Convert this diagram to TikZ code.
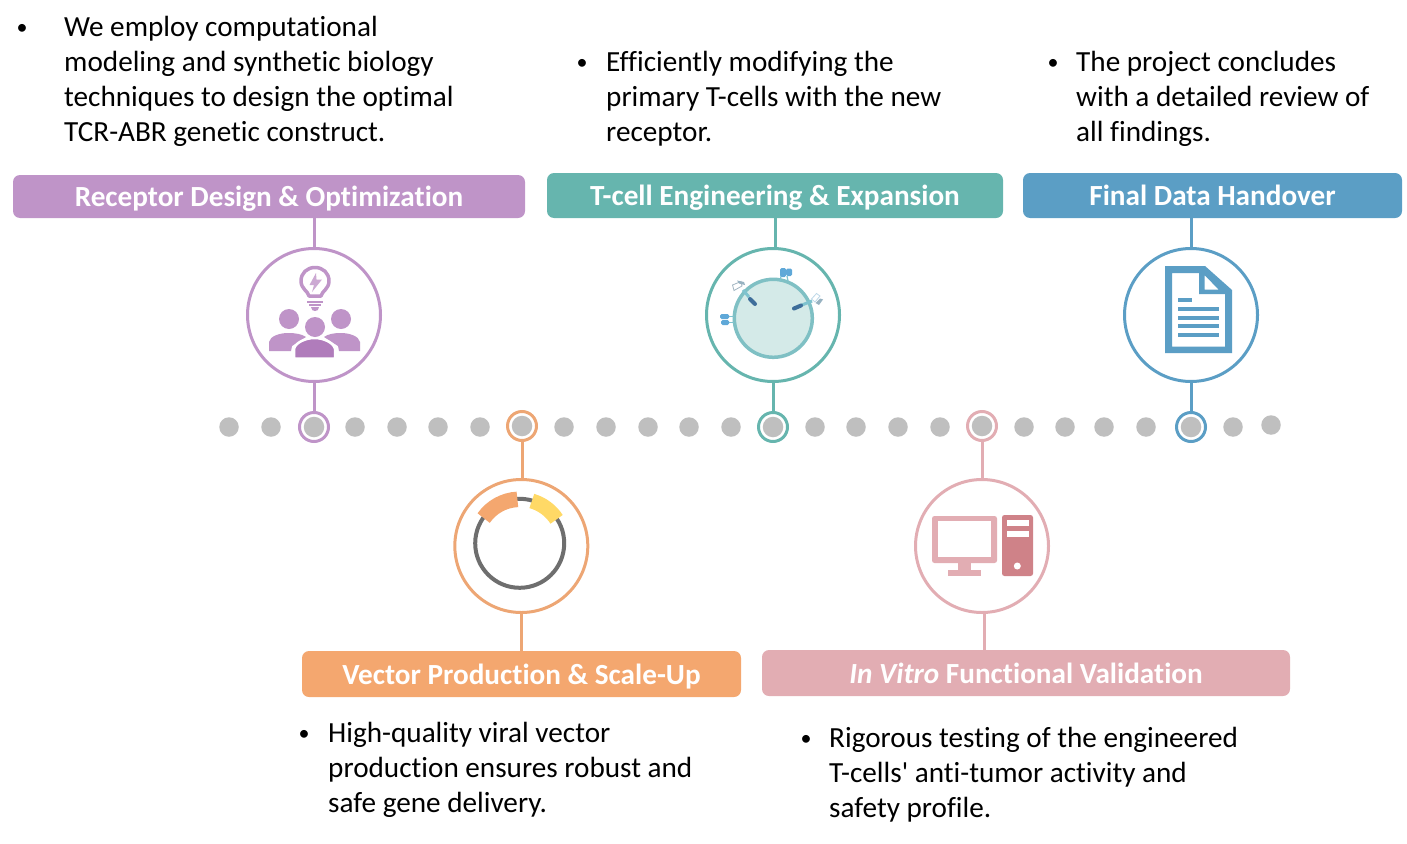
\documentclass[tikz,border=0pt]{standalone}
\usepackage{fontspec}
\setmainfont{Carlito}[Ligatures={NoCommon,TeX}]
\definecolor{cpur}{HTML}{BF94C8}
\definecolor{cpurd}{HTML}{B07CBB}
\definecolor{cteal}{HTML}{66B5AE}
\definecolor{cblue}{HTML}{5B9EC5}
\definecolor{corg}{HTML}{F4A76F}
\definecolor{corgl}{HTML}{EDA674}
\definecolor{cpink}{HTML}{E2ADB3}
\definecolor{cpinkd}{HTML}{CF8288}
\definecolor{cgrey}{HTML}{BFBFBF}
\definecolor{cyel}{HTML}{FFD966}
\definecolor{cplas}{HTML}{6E6E6E}
\definecolor{crec}{HTML}{5FA8D8}
\definecolor{cstem}{HTML}{7FC3CF}
\definecolor{cstub}{HTML}{3E6E9A}
\definecolor{ccell}{HTML}{7FC0C4}
\tikzset{
  bar/.style={draw=none,fill=#1,rounded corners=7pt,text=white,font=\fontsize{29.2}{32}\selectfont\bfseries,inner sep=0pt,align=center,text height=22pt,text depth=3pt},
  hub/.style={circle,draw=#1,fill=white,line width=3pt,minimum size=133pt,inner sep=0pt},
  ring/.style={circle,draw=#1,fill=white,line width=3pt,minimum size=29pt,inner sep=0pt},
  dotg/.style={circle,fill=cgrey,draw=none,minimum size=19.5pt,inner sep=0pt},
  link/.style={draw=#1,line width=3pt},
  body/.style={anchor=north west,inner sep=0pt,align=left,font=\fontsize{29.2}{35}\selectfont,text=black},
  bull/.style={anchor=base,inner sep=0pt,font=\fontsize{22}{24}\selectfont,text=black},
}
\begin{document}
\begin{tikzpicture}[x=1pt,y=-1pt]
\useasboundingbox (0,0) rectangle (1407,843);
% header bars
\node[bar=cpur,minimum width=512pt,minimum height=43pt] (b1) at (269,196.5) {Receptor Design \& Optimization};
\node[bar=cteal,minimum width=456pt,minimum height=45pt] (b2) at (775,195.5) {T-cell Engineering \& Expansion};
\node[bar=cblue,minimum width=379pt,minimum height=45pt] (b3) at (1212.5,195.5) {Final Data Handover};
\node[bar=corg,minimum width=439pt,minimum height=46pt,text height=24pt] (b4) at (521.5,674) {Vector Production \& Scale-Up};
\node[bar=cpink,minimum width=528pt,minimum height=46pt,text height=24pt] (b5) at (1026,673) {\textit{In Vitro} Functional Validation};
% timeline dots
\foreach \n/\x/\y in {1/229/427,2/271/427,3/355/427,4/397/427,5/438/427,6/480/427,7/564/427,8/606/427,9/648/427,10/689/427,11/731/427,12/815/427,13/856/427,14/898/427,15/940/427,16/1024/427,17/1065/427,18/1104/427,19/1146/427,20/1233/427,21/1271/425}
  \node[dotg] (d\n) at (\x,\y) {};
% hubs and rings
\node[hub=cpur] (h1) at (314,315) {};
\node[hub=cteal] (h2) at (773,315) {};
\node[hub=cblue] (h3) at (1191,315) {};
\node[hub=corgl] (h4) at (521.3,546) {};
\node[hub=cpink] (h5) at (982,546) {};
\node[ring=cpur] (r1) at (314,427) {};
\node[ring=cteal] (r2) at (773,427) {};
\node[ring=cblue] (r3) at (1191,427) {};
\node[ring=corgl] (r4) at (522,426) {};
\node[ring=cpink] (r5) at (982,426) {};
\foreach \i in {1,...,5} \node[dotg,minimum size=20.5pt] (g\i) at (r\i) {};
% connectors
\draw[link=cpur] (h1.north) -- (b1.south -| h1.north);
\draw[link=cpur] (h1.south) -- (r1.north);
\draw[link=cteal] (b2.south) -- (h2.north -| b2.south);
\draw[link=cteal] (h2.south) -- (r2.north);
\draw[link=cblue] (h3.north) -- (b3.south -| h3.north);
\draw[link=cblue] (h3.south) -- (r3.north);
\draw[link=corgl] (r4.south) -- (h4.north -| r4.south);
\draw[link=corgl] (h4.south) -- (b4.north -| h4.south);
\draw[link=cpink] (r5.south) -- (h5.north);
\coordinate (p5a) at (984,612.5);
\draw[link=cpink] (p5a) -- (p5a |- b5.north);
% icon 1: bulb and people
\begin{scope}
\fill[cpur] (341,319) circle[radius=10];
\fill[cpur] (289,319) circle[radius=10];
\fill[cpur] (269,351) -- (269,342) .. controls (270,336) and (280,333) .. (288,333) .. controls (295,333) and (302,334) .. (306,337) -- (292,346) -- (291,351) -- cycle;
\fill[cpur] (360,351) -- (360,342) .. controls (359,336) and (349,333) .. (341,333) .. controls (334,333) and (328,334) .. (324,337) -- (338,346) -- (339,351) -- cycle;
\draw[white,line width=2.5pt,fill=cpurd] (294,358.5) -- (294,349) .. controls (295,343) and (305,338) .. (314.5,338) .. controls (324,338) and (334,343) .. (335,349) -- (335,358.5) -- cycle;
\fill[cpur] (315,327) circle[radius=10];
\draw[cpur,line width=3.5pt,line join=round] (309,296) .. controls (308,291) and (301,289) .. (301,281) .. controls (301,273) and (307,267.5) .. (315,267.5) .. controls (323,267.5) and (329,273) .. (329,281) .. controls (329,289) and (322,291) .. (321,296) -- cycle;
\fill[cpur!80!white] (316,273) -- (309.5,285) -- (314,285) -- (312,292) -- (322,279.5) -- (316.5,279.5) -- cycle;
\fill[cpur] (307,300.5) rectangle (323,303);
\fill[cpur] (309,304) rectangle (321,306);
\fill[cpurd!80!white] (311,307) -- (319,307) .. controls (319,310) and (317,311) .. (315,311) .. controls (313,311) and (311,310) .. (311,307) -- cycle;
\end{scope}
% icon 2: cell with receptors
\begin{scope}
\draw[draw=ccell,fill=cteal!28!white,line width=3.5pt] (773.3,318.3) circle[radius=39];
% top receptor
\draw[cstem,line width=1.2pt] (781,276) -- (780,281) (787,276) -- (788,281);
\fill[crec,rounded corners=1.5pt] (780,268) rectangle (786,277);
\fill[crec,rounded corners=1.5pt] (786,268.5) rectangle (792,276);
% left receptor
\draw[cstem,line width=1.2pt] (729,316.5) -- (734,316.5) (729,322.5) -- (734,322.5);
\fill[crec,rounded corners=1.5pt] (720,314) rectangle (729,319);
\fill[crec,rounded corners=1.5pt] (721,320) rectangle (729,325);
% upper-left receptor
\draw[cstem,line width=3pt] (743,290) -- (749,297);
\draw[cstub,line width=4pt,line cap=round] (750,299) -- (755,304);
\draw[cgrey!70!cblue,line width=.8pt,fill=white] (732.5,285) -- (741,281.5) -- (742,286) -- (734,290.5) -- cycle;
\fill[cblue!40!cgrey] (737,280.5) -- (744,282) -- (745,285) -- (739,283.5) -- cycle;
% right receptor
\draw[cstem,line width=3pt] (812,301) -- (802,305);
\draw[cstub,line width=4pt,line cap=round] (801,305.5) -- (794,308.5);
\draw[cblue!40!white,line width=.8pt,fill=white] (811.5,299) -- (816.5,293.5) -- (820,296) -- (815,302) -- cycle;
\fill[cblue!40!cgrey] (815.5,303) -- (820,298.5) -- (823,299.5) -- (819,305) -- cycle;
\end{scope}
% icon 3: document
\begin{scope}
\fill[cblue,even odd rule] (1165,266) -- (1205,266) -- (1232,290) -- (1232,353) -- (1165,353) -- cycle
  (1172,273) -- (1172,346.5) -- (1225,346.5) -- (1225,294) -- (1199,294) -- (1199,273) -- cycle
  (1204.5,275) -- (1204.5,289.5) -- (1218.5,289.5) -- cycle;
\fill[cblue] (1178,297.5) rectangle (1192,301.5);
\foreach \yy in {306.5,315.5,324,333} \fill[cblue] (1178,\yy) rectangle (1219,\yy+4);
\end{scope}
% icon 4: plasmid
\begin{scope}
\draw[cplas,line width=4pt] (519.7,543.3) circle[radius=44.5];
\draw[corg,line width=15.5pt] (519.7,543.3) ++(-145:44) arc[start angle=-145,end angle=-93,radius=44];
\draw[cyel,line width=15pt] (519.7,543.3) ++(-74:44) arc[start angle=-74,end angle=-33,radius=44];
\end{scope}
% icon 5: computer
\begin{scope}
\fill[cpink,rounded corners=2.5pt] (932,516) rectangle (997,563);
\fill[white] (938,521) rectangle (991,557);
\fill[cpink] (958,563) rectangle (971,570);
\fill[cpink] (948,570) rectangle (981,576);
\fill[cpinkd,rounded corners=2.5pt] (1002,515) rectangle (1033,576);
\fill[white] (1007,519.5) rectangle (1029,526);
\fill[white] (1007,530.5) rectangle (1029,537);
\fill[white] (1017.3,566) circle[radius=3.5];
\end{scope}
% texts
\node[bull] (t1b) at (22,34.3) {•};
\node[body] (t1) at (64,12) {\strut We employ computational\\\strut modeling and synthetic biology\\\strut techniques to design the optimal\\\strut TCR-ABR genetic construct.};
\node[bull] (t2b) at (582,69.3) {•};
\node[body] (t2) at (606,47) {\strut Efficiently modifying the\\\strut primary T-cells with the new\\\strut receptor.};
\node[bull] (t3b) at (1053,69.3) {•};
\node[body] (t3) at (1076,47) {\strut The project concludes\\\strut with a detailed review of\\\strut all findings.};
\node[bull] (t4b) at (304,740.3) {•};
\node[body] (t4) at (328,718) {\strut High-quality viral vector\\\strut production ensures robust and\\\strut safe gene delivery.};
\node[bull] (t5b) at (806,745.3) {•};
\node[body] (t5) at (829,723) {\strut Rigorous testing of the engineered\\\strut T-cells\textquotesingle{} anti-tumor activity and\\\strut safety profile.};
\end{tikzpicture}
\end{document}
